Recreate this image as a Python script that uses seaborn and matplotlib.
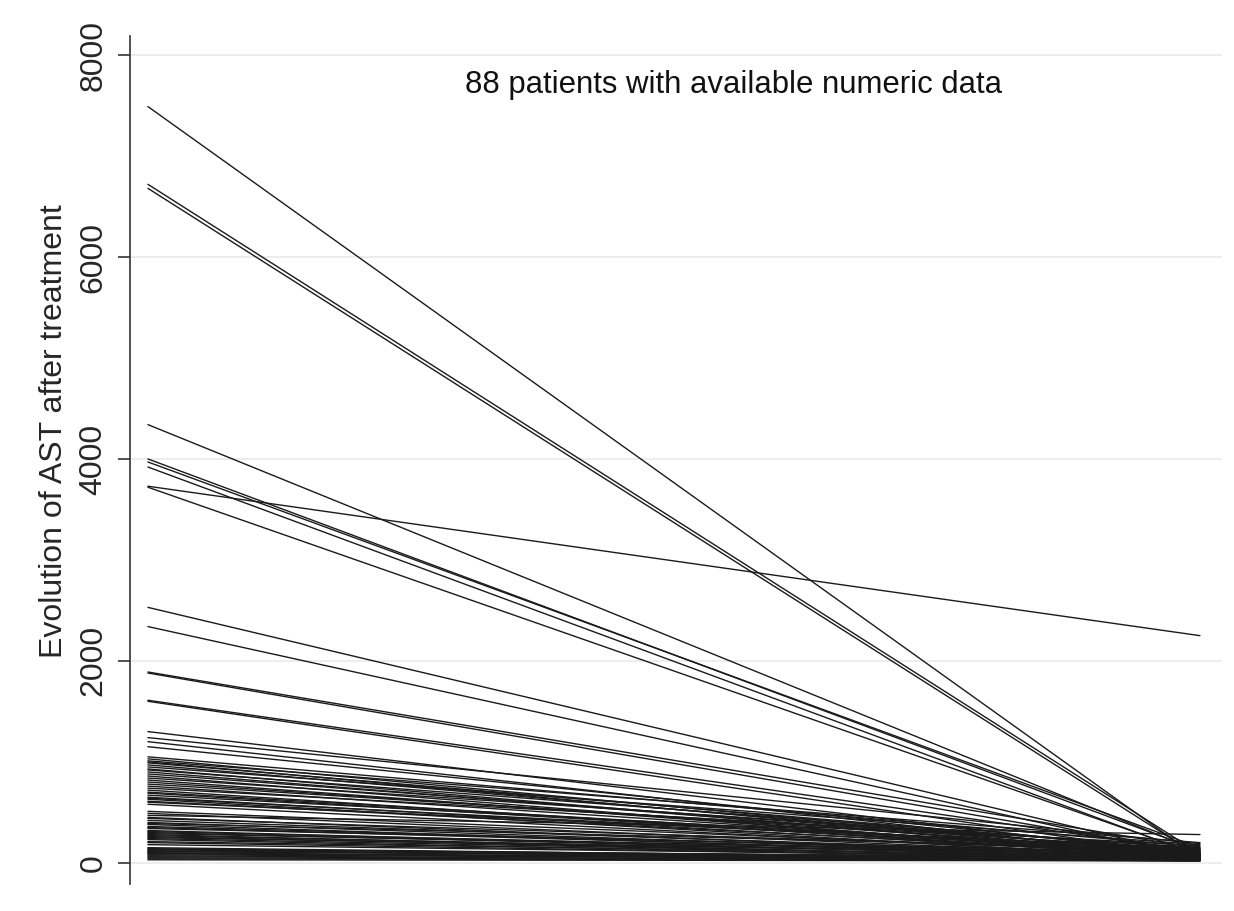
import numpy as np
import pandas as pd
import matplotlib
matplotlib.use("Agg")
import matplotlib.pyplot as plt
from matplotlib import font_manager
import seaborn as sns

# AST values per patient: before treatment and after treatment
ast_before = [
    7490, 6720, 6680, 4340, 4000, 3970, 3920, 3730, 3720, 2530, 2340, 1890, 1880,
    1610, 1600, 1300, 1240, 1200, 1150,
    1050, 1030, 1010, 1000, 990, 970, 950, 930, 920, 900, 880, 860, 840, 820, 800,
    780, 760, 740, 720, 700,
    690, 670, 650, 640, 630, 610, 600, 580,
    510, 490, 470, 450, 440, 420, 400, 390, 380, 360, 350, 340, 320, 310, 300, 290,
    280, 270, 260, 250, 240, 230, 210, 200, 180,
    150, 140, 135, 130, 120, 115, 110, 100, 95, 90, 80, 70, 60, 50, 40, 30,
]
ast_after = [
    40, 90, 60, 110, 120, 150, 70, 2250, 80, 60, 50, 140, 90,
    110, 60, 70, 190, 50, 100,
    160, 80, 200, 60, 120, 90, 180, 50, 140, 70, 110, 40, 150, 60, 100,
    130, 80, 170, 50, 90,
    70, 120, 60, 100, 40, 80, 140, 50,
    90, 60, 280, 40, 110, 70, 50, 130, 30, 80, 60, 100, 40, 70, 50, 90,
    30, 60, 40, 80, 50, 30, 60, 40, 50,
    30, 40, 50, 20, 30, 40, 60, 30, 20, 40, 30, 20, 30, 20, 25, 20,
]
yticks = [0, 2000, 4000, 6000, 8000]
note = "88 patients with available numeric data"
ylabel = "Evolution of AST after treatment"

n = len(ast_before)
df = pd.DataFrame({
    "patient": np.repeat(np.arange(n), 2),
    "time": np.tile([0, 1], n),
    "ast": np.ravel(np.column_stack([ast_before, ast_after])),
})

sns.set_style("white")
avail = {f.name for f in font_manager.fontManager.ttflist}
narrow = "Liberation Sans Narrow" if "Liberation Sans Narrow" in avail else "Liberation Sans"
plt.rcParams["font.family"] = ["Liberation Sans", "DejaVu Sans"]

fig = plt.figure(figsize=(12.34, 9.11), dpi=100)
ax = fig.add_axes([0.1053, 0.0296, 0.885, 0.931])

for y in yticks:
    ax.axhline(y, color="#ececec", lw=1.3, zorder=0)

sns.lineplot(data=df, x="time", y="ast", units="patient", estimator=None,
             color="#1a1a1a", lw=1.0, ax=ax, legend=False)

ax.set_xlim(-0.0171, 1.021)
ax.set_ylim(-210, 8190)
ax.set_xticks([])
ax.set_xlabel("")
ax.set_yticks(yticks)
ax.set_yticklabels([str(v) for v in yticks], rotation=90, va="center",
                   family=[narrow, "DejaVu Sans"], fontsize=23)
ax.tick_params(axis="y", direction="out", length=8.5, width=1.2, color="#333333",
               pad=7, left=True)
ax.set_ylabel(ylabel, family=[narrow, "DejaVu Sans"], fontsize=23, va="center")
ax.yaxis.set_label_coords(-0.0696, 0.534)

for side in ["top", "right", "bottom"]:
    ax.spines[side].set_visible(False)
ax.spines["left"].set_color("#333333")
ax.spines["left"].set_linewidth(1.2)

ax.text(0.553, 0.942, note, transform=ax.transAxes, ha="center", va="center",
        fontsize=22.4, color="#111111")

fig.savefig("out.png", dpi=100, facecolor="white")
